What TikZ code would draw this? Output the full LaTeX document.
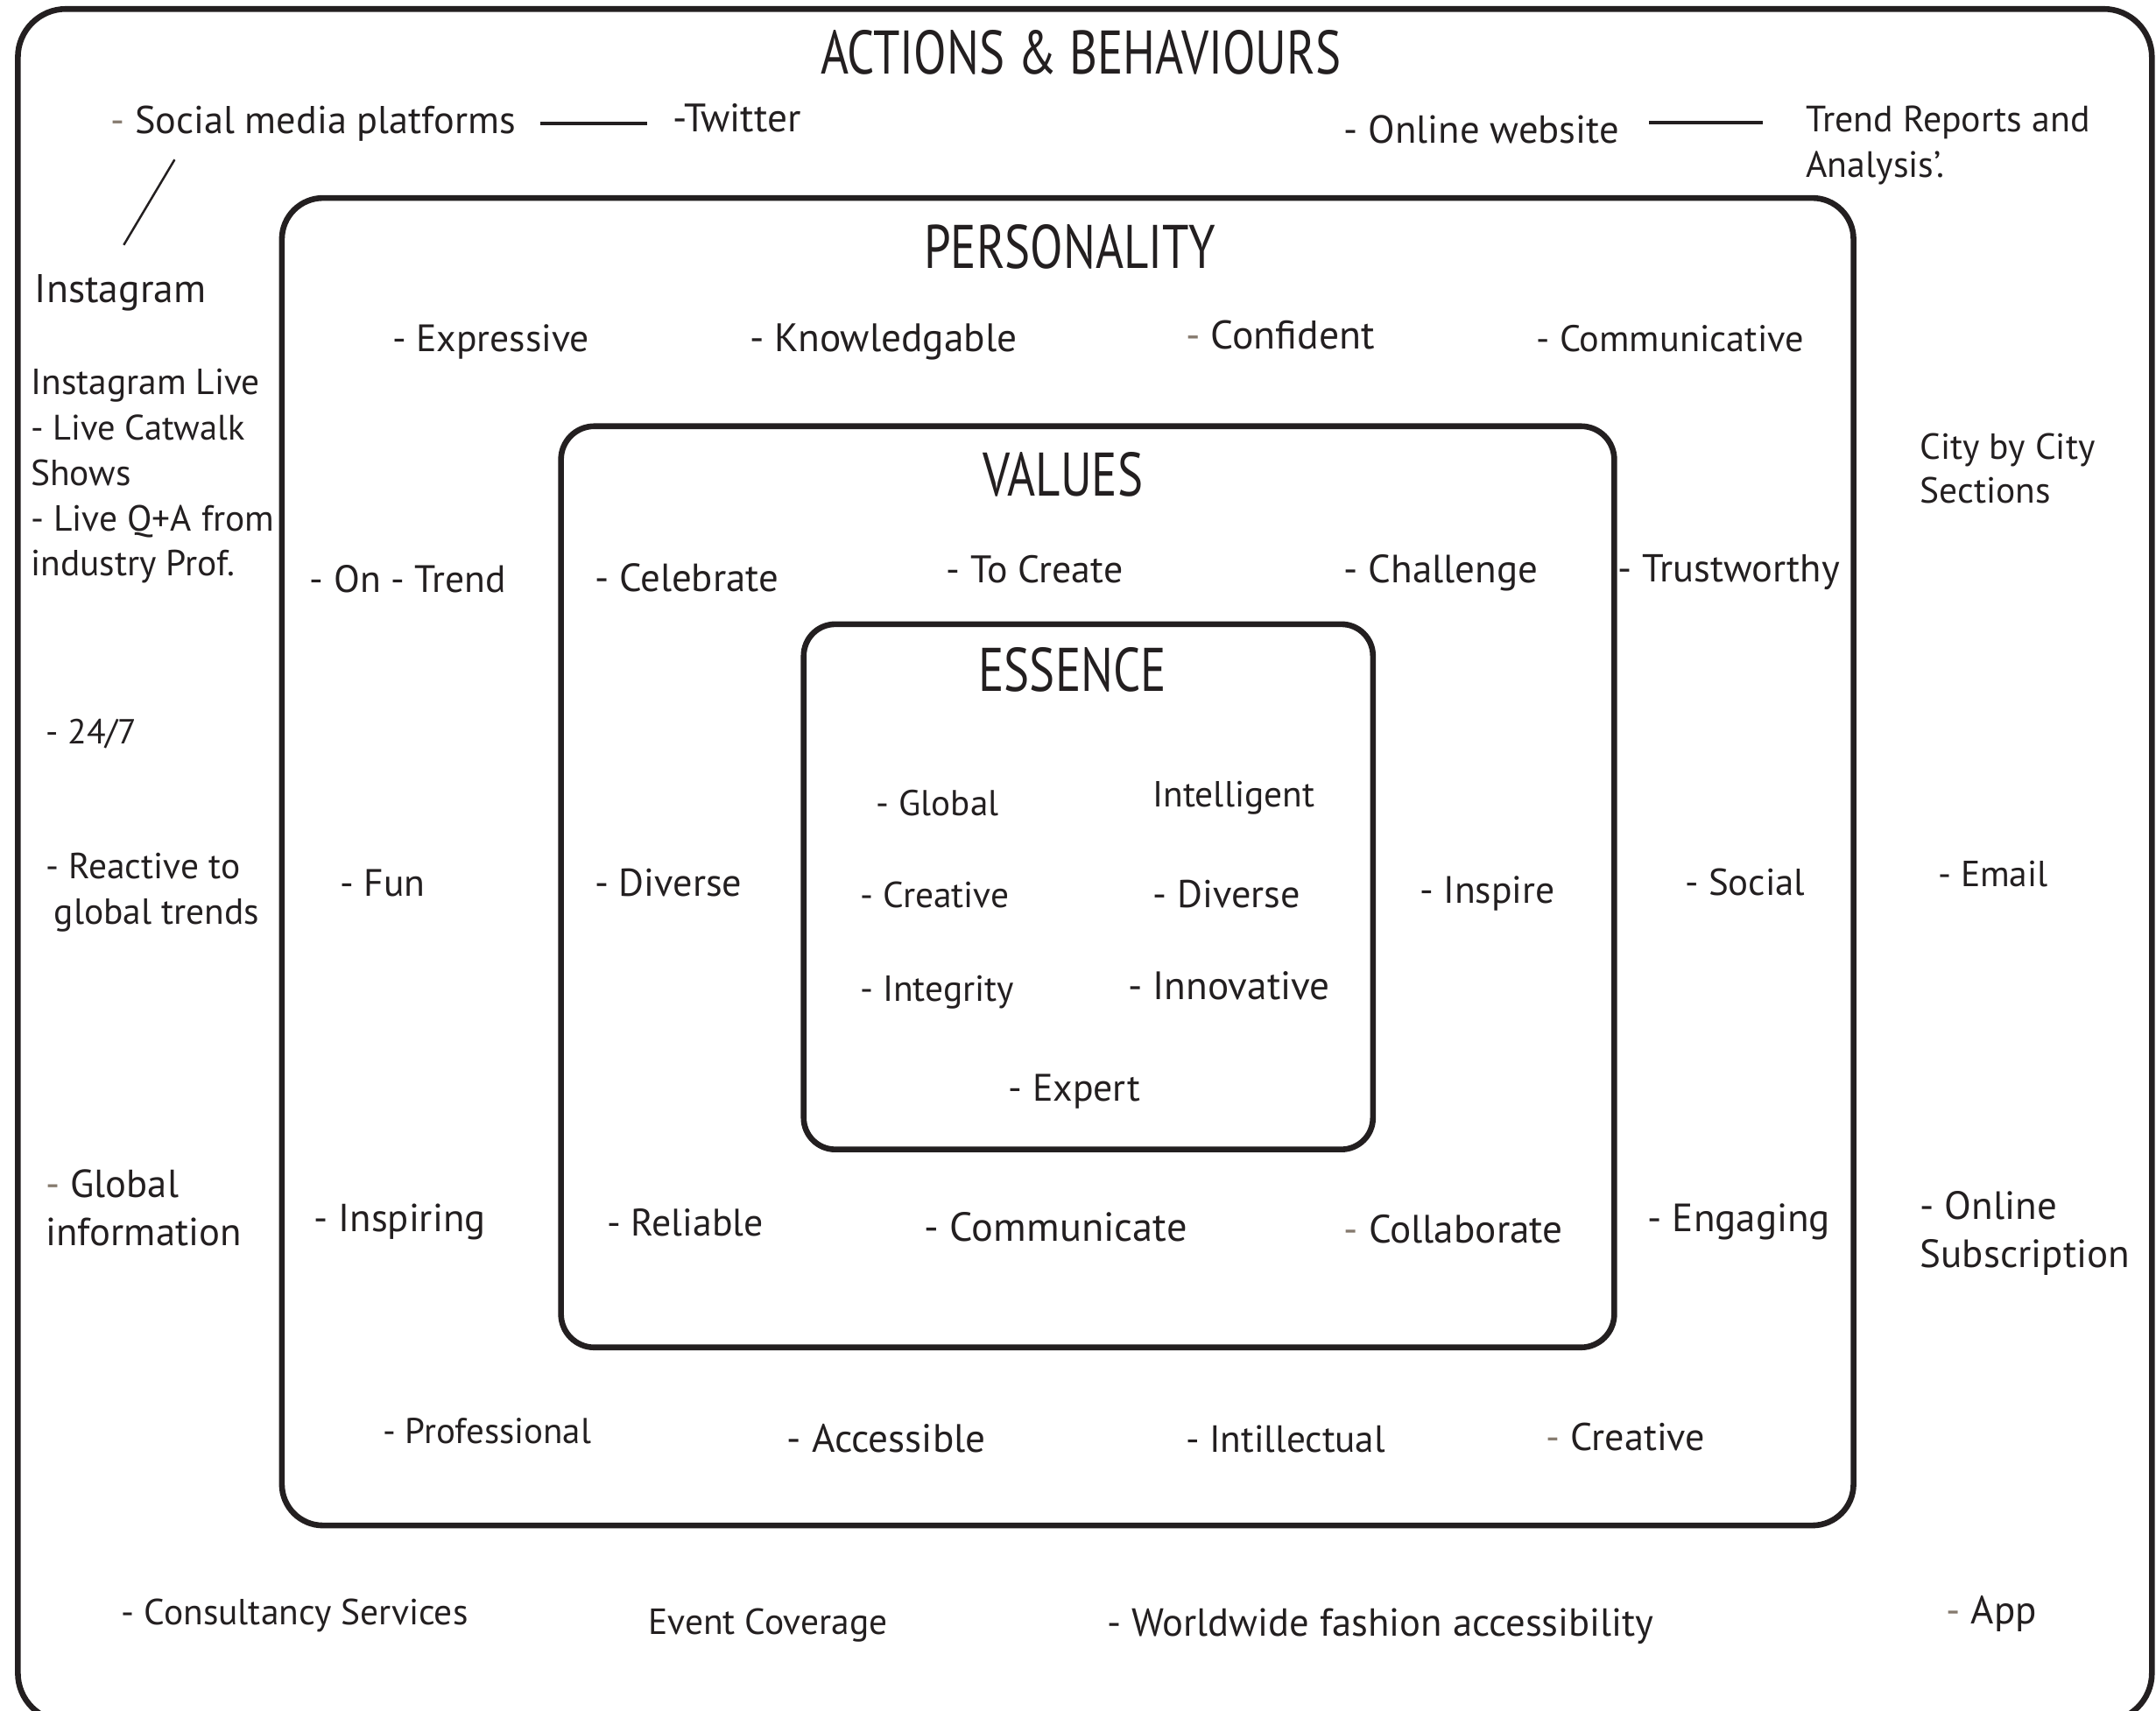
\documentclass[tikz,border=0pt]{standalone}
\usepackage{fontspec}
\setmainfont{PT Sans}
\newfontfamily\headfont[FakeStretch=0.78]{PT Sans}
\definecolor{ink}{HTML}{231F20}
\definecolor{dashgray}{HTML}{857A6E}
\newcommand{\gd}{\textcolor{dashgray}{-}}

\begin{document}
\begin{tikzpicture}[x=0.15702mm,y=-0.15702mm,
  txt/.style={anchor=base west, inner sep=0pt, text=ink,
              font=\fontsize{#1}{14pt}\selectfont},
  txt/.default=11.8pt,
  head/.style={anchor=base, inner sep=0pt, text=ink,
               font=\headfont\fontsize{20pt}{24pt}\selectfont},
  frame/.style={draw=ink, line width=0.66mm},
  link/.style={draw=ink, line width=0.36mm},
  thinlink/.style={draw=ink, line width=0.25mm}]

\useasboundingbox (0,0) rectangle (1568,1244);

% nested frames
\draw[frame, rounded corners=5.5mm] (13,6.5) rectangle (1565,1252);
\draw[frame, rounded corners=4.7mm] (205,144) rectangle (1348,1109.5);
\draw[frame, rounded corners=3.8mm] (408,310) rectangle (1174,980);
\draw[frame, rounded corners=3.6mm] (584.5,454) rectangle (998.5,836);

% headings
\node[head] (hAB)  at (786,54)  {ACTIONS \& BEHAVIOURS};
\node[head] (hPer) at (778,195) {PERSONALITY};
\node[head] (hVal) at (773,361) {VALUES};
\node[head] (hEss) at (780,503) {ESSENCE};

% actions & behaviours (outer ring)
\node[txt=12.6pt] (smp)  at (80,97)    {\gd{} Social media platforms};
\node[txt=12.9pt] (tw)   at (489,96)   {-Twitter};
\node[txt=12.7pt] (ow)   at (977,104)  {- Online website};
\node[txt=11.9pt] (tr1)  at (1313,96)  {Trend Reports and};
\node[txt=11.9pt] (tr2)  at (1313,129) {Analysis’.};
\node[txt=13pt]   (ig)   at (25,220)   {Instagram};
\node[txt]        (igl1) at (22,287)   {Instagram Live};
\node[txt=11.5pt] (igl2) at (22,320)   {- Live Catwalk};
\node[txt]        (igl3) at (22,353)   {Shows};
\node[txt]        (igl4) at (22,386)   {- Live Q+A from};
\node[txt]        (igl5) at (22,419)   {industry Prof.};
\node[txt=11.3pt] (h247) at (33,541)   {- 24/7};
\node[txt]        (rea1) at (33,639)   {- Reactive to};
\node[txt]        (rea2) at (39,672)   {global trends};
\node[txt=12.7pt] (glo1) at (33,871)   {\gd{} Global};
\node[txt=12.7pt] (glo2) at (33,906)   {information};
\node[txt]        (cons) at (88,1182)  {- Consultancy Services};
\node[txt]        (evt)  at (471,1189) {Event Coverage};
\node[txt=12.7pt] (wwf)  at (805,1190) {- Worldwide fashion accessibility};
\node[txt=12.8pt] (app)  at (1415,1181){\gd{} App};
\node[txt]        (city1) at (1396,334) {City by City};
\node[txt]        (city2) at (1396,366) {Sections};
\node[txt]        (mail) at (1409,645) {- Email};
\node[txt=12.8pt] (sub1) at (1396,887) {- Online};
\node[txt=12.8pt] (sub2) at (1396,922) {Subscription};

% personality
\node[txt=12.4pt]  (pExp)  at (285,256)  {- Expressive};
\node[txt=12.9pt]  (pKno)  at (545,256)  {- Knowledgable};
\node[txt=13pt]    (pCon)  at (862,254)  {\gd{} Confident};
\node[txt=12.05pt] (pCom)  at (1117,256) {- Communicative};
\node[txt=12.4pt]  (pTre)  at (225,431)  {- On - Trend};
\node[txt=12.66pt] (pTru)  at (1176,423) {- Trustworthy};
\node[txt=12.4pt]  (pFun)  at (247,652)  {- Fun};
\node[txt=12.2pt]  (pSoc)  at (1225,651) {- Social};
\node[txt=12.7pt]  (pIns)  at (228,896)  {- Inspiring};
\node[txt=12.8pt]  (pEng)  at (1198,896) {- Engaging};
\node[txt=11.65pt] (pPro)  at (278,1050) {- Professional};
\node[txt=12.87pt] (pAcc)  at (572,1056) {- Accessible};
\node[txt=12.3pt]  (pInt)  at (862,1056) {- Intillectual};
\node[txt=12.56pt] (pCre)  at (1124,1055){\gd{} Creative};

% values
\node[txt=12.76pt] (vCel)  at (432,430)  {- Celebrate};
\node[txt=12.48pt] (vCre)  at (688,424)  {- To Create};
\node[txt=12.8pt]  (vCha)  at (977,424)  {- Challenge};
\node[txt=12.6pt]  (vDiv)  at (432,652)  {- Diverse};
\node[txt=12.4pt]  (vIns)  at (1032,657) {- Inspire};
\node[txt=12.46pt] (vRel)  at (441,899)  {- Reliable};
\node[txt=13.2pt]  (vCom)  at (672,903)  {- Communicate};
\node[txt=12.86pt] (vCol)  at (977,904)  {\gd{} Collaborate};

% essence
\node[txt=11.7pt]  (eGlo)  at (637,593)  {- Global};
\node[txt]         (eInt)  at (838,587)  {Intelligent};
\node[txt]         (eCre)  at (625,660)  {- Creative};
\node[txt=12.6pt]  (eDiv)  at (838,660)  {- Diverse};
\node[txt]         (eIng)  at (625,728)  {- Integrity};
\node[txt=12.86pt] (eInn)  at (820,727)  {- Innovative};
\node[txt=12.45pt] (eExp)  at (733,801)  {- Expert};

% connectors between channels
\draw[link] ([xshift=2.8mm]smp.east) -- ([xshift=-2.9mm]smp.east -| tw.west);
\draw[link] ([xshift=-4.9mm]tr1.west) -- ([xshift=3.3mm]tr1.west -| ow.east);
\draw[thinlink] ([shift={(47,13)}]smp.south west) -- ([shift={(65,-21)}]ig.north west);

\end{tikzpicture}
\end{document}
